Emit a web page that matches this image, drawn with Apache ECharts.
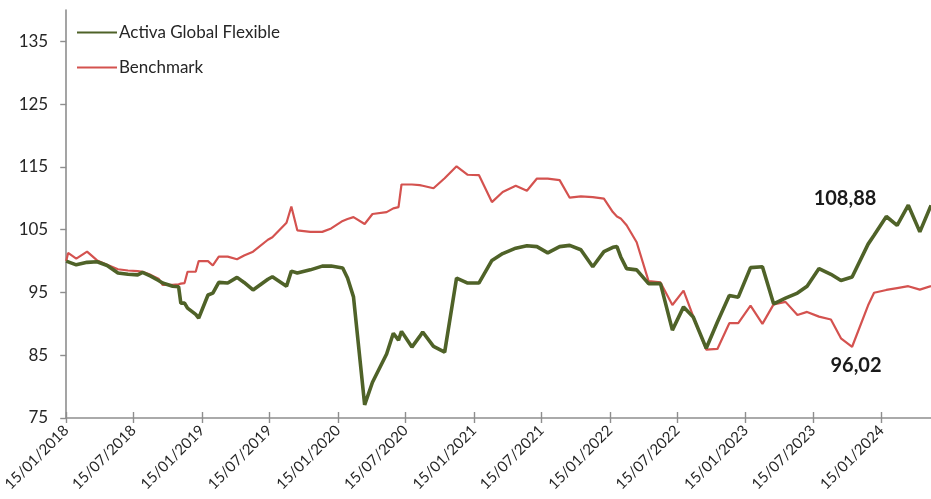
<!DOCTYPE html>
<html>
<head>
<meta charset="utf-8">
<script src="https://cdn.jsdelivr.net/npm/echarts@6/dist/echarts.min.js"></script>
<style>
html,body{margin:0;padding:0;background:#fff;}
#chart{width:931px;height:499px;}
</style>
</head>
<body>
<div id="chart"></div>
<script>
// ---- data ----
const dates = [
 '2018-01-15','2018-01-20','2018-02-11','2018-03-12','2018-04-08','2018-05-05','2018-06-03','2018-06-30',
 '2018-07-26','2018-08-08','2018-08-30','2018-09-20','2018-10-01','2018-10-28','2018-11-13','2018-11-19',
 '2018-11-29','2018-12-07','2018-12-29','2019-01-06','2019-01-31','2019-02-13','2019-03-01','2019-03-25',
 '2019-04-19','2019-05-08','2019-06-01','2019-07-11','2019-07-23','2019-08-30','2019-09-12','2019-09-28',
 '2019-11-02','2019-12-04','2019-12-28','2020-01-28','2020-02-10','2020-02-26','2020-03-27','2020-04-17',
 '2020-05-25','2020-06-12','2020-06-26','2020-07-04','2020-08-01','2020-08-22','2020-08-30','2020-09-28',
 '2020-10-28','2020-11-29','2020-12-29','2021-01-28','2021-03-04','2021-04-02','2021-05-07','2021-06-06',
 '2021-07-03','2021-08-01','2021-09-02','2021-09-29','2021-10-29','2021-11-30','2021-12-30','2022-01-23',
 '2022-02-03','2022-02-13','2022-03-01','2022-03-28','2022-04-29','2022-05-31','2022-07-02','2022-08-01',
 '2022-08-27','2022-10-01','2022-10-31','2022-12-02','2022-12-26','2023-01-28','2023-03-01','2023-03-31',
 '2023-05-02','2023-06-03','2023-06-29','2023-07-31','2023-09-01','2023-09-28','2023-10-28','2023-12-10',
 '2023-12-26','2024-01-28','2024-02-26','2024-03-27','2024-04-27','2024-05-27'
];
const activa = [
 100.0, 99.9, 99.4, 99.8, 99.9, 99.3, 98.1, 97.9,
 97.8, 98.2, 97.6, 96.9, 96.5, 96.0, 95.9, 93.3,
 93.3, 92.5, 91.5, 90.9, 94.6, 94.9, 96.6, 96.5,
 97.4, 96.6, 95.4, 97.1, 97.5, 96.0, 98.4, 98.1,
 98.6, 99.2, 99.2, 98.9, 97.3, 94.3, 77.1, 80.7,
 85.2, 88.5, 87.4, 88.8, 86.3, 88.0, 88.7, 86.4,
 85.5, 97.3, 96.5, 96.5, 100.1, 101.2, 102.05, 102.45,
 102.3, 101.3, 102.3, 102.5, 101.8, 99.1, 101.5, 102.2,
 102.3, 100.7, 98.8, 98.6, 96.4, 96.4, 89.0, 92.7,
 91.1, 86.1, 90.3, 94.5, 94.25, 98.95, 99.1, 93.2,
 94.1, 94.9, 96.0, 98.8, 97.9, 96.9, 97.45, 102.7,
 104.1, 107.1, 105.7, 108.9, 104.65, 108.88
];
const benchmark = [
 100.0, 101.3, 100.4, 101.5, 100.1, 99.4, 98.7, 98.5,
 98.4, 98.3, 97.8, 97.2, 96.2, 96.2, 96.3, 96.4,
 96.5, 98.3, 98.3, 100.0, 100.0, 99.3, 100.7, 100.7,
 100.3, 100.9, 101.5, 103.4, 103.8, 106.1, 108.7, 104.9,
 104.65, 104.65, 105.2, 106.4, 106.7, 107.0, 105.9, 107.5,
 107.8, 108.4, 108.6, 112.2, 112.2, 112.1, 112.0, 111.6,
 113.2, 115.1, 113.75, 113.7, 109.4, 111.0, 112.0, 111.2,
 113.15, 113.15, 112.9, 110.1, 110.3, 110.2, 109.95, 107.8,
 107.1, 106.8, 105.7, 103.0, 96.8, 96.6, 93.0, 95.3,
 91.2, 85.9, 86.0, 90.1, 90.1, 92.9, 90.0, 93.1,
 93.5, 91.4, 91.9, 91.15, 90.7, 87.7, 86.35, 92.95,
 94.95, 95.4, 95.7, 96.0, 95.45, 96.02
];
const seriesNames = ['Activa Global Flexible', 'Benchmark'];
const yTicks = [75, 85, 95, 105, 115, 125, 135];
const xTicks = ['2018-01-15','2018-07-15','2019-01-15','2019-07-15','2020-01-15','2020-07-15',
 '2021-01-15','2021-07-15','2022-01-15','2022-07-15','2023-01-15','2023-07-15','2024-01-15'];
const endLabels = ['108,88', '96,02'];

// ---- chart ----
const ts = s => new Date(s + 'T00:00:00').getTime();
const pad = n => (n < 10 ? '0' : '') + n;
const fmtDate = v => { const d = new Date(v); return pad(d.getDate()) + '/' + pad(d.getMonth() + 1) + '/' + d.getFullYear(); };
const xTickTs = xTicks.map(ts);
const xMin = ts(dates[0]);
const xMax = ts(dates[dates.length - 1]);

const GREEN = '#4f6228';
const RED = '#d4524f';
const AXIS = '#8e8e8e';
const FONT = 'Lato';

const chart = echarts.init(document.getElementById('chart'), null, {renderer: 'canvas'});
chart.setOption({
  animation: false,
  backgroundColor: '#ffffff',
  textStyle: {fontFamily: FONT},
  grid: {left: 66, right: 0, top: 10, bottom: 81, containLabel: false},
  legend: {
    orient: 'vertical', left: 76, top: 24, padding: 0, itemWidth: 40, itemHeight: 14, itemGap: 18,
    itemStyle: {color: 'rgba(0,0,0,0)', borderColor: 'rgba(0,0,0,0)', borderWidth: 0},
    textStyle: {fontFamily: FONT, fontSize: 17, color: '#262626', padding: [0, 0, 0, -3]},
    data: seriesNames
  },
  xAxis: [{
    type: 'value', min: xMin, max: xMax, scale: true,
    axisLine: {show: true, lineStyle: {color: AXIS, width: 1.6}},
    axisTick: {show: true, length: 5, lineStyle: {color: AXIS, width: 1.4}, customValues: xTickTs},
    axisLabel: {
      show: true, rotate: 45, margin: 10, fontSize: 15, fontFamily: FONT, color: '#262626',
      customValues: xTickTs, formatter: fmtDate, hideOverlap: false
    },
    splitLine: {show: false}
  }, {
    type: 'value', min: xMin, max: xMax, scale: true, position: 'bottom',
    axisLine: {show: false},
    axisTick: {show: true, inside: true, length: 6, lineStyle: {color: AXIS, width: 1.4}, customValues: xTickTs},
    axisLabel: {show: false},
    splitLine: {show: false}
  }],
  yAxis: {
    type: 'value', min: 75, max: 140, interval: 10,
    axisLine: {show: true, lineStyle: {color: AXIS, width: 1.6}},
    axisTick: {show: true, length: 6, lineStyle: {color: AXIS, width: 1.4}, customValues: yTicks},
    axisLabel: {fontSize: 17, fontFamily: FONT, color: '#262626', margin: 18, customValues: yTicks},
    splitLine: {show: false}
  },
  series: [{
    name: seriesNames[0], type: 'line', symbol: 'none', xAxisIndex: 0,
    lineStyle: {color: GREEN, width: 3.6}, itemStyle: {color: GREEN},
    data: dates.map((d, i) => [ts(d), activa[i]]), z: 3
  }, {
    name: seriesNames[1], type: 'line', symbol: 'none', xAxisIndex: 0,
    lineStyle: {color: RED, width: 2.2}, itemStyle: {color: RED},
    data: dates.map((d, i) => [ts(d), benchmark[i]]), z: 2
  }],
  graphic: [{
    type: 'text', x: 845, y: 199,
    style: {text: endLabels[0], font: 'bold 20px Lato', fill: '#1a1a1a', align: 'center', verticalAlign: 'middle'}
  }, {
    type: 'text', x: 856, y: 366,
    style: {text: endLabels[1], font: 'bold 20px Lato', fill: '#1a1a1a', align: 'center', verticalAlign: 'middle'}
  }]
});
</script>
</body>
</html>
